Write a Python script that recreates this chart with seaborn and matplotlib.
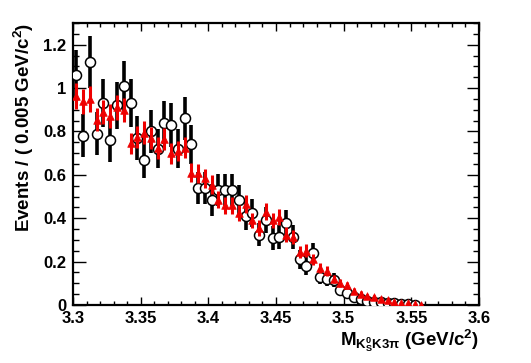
import numpy as np
import pandas as pd
import matplotlib
matplotlib.use("Agg")
import matplotlib.pyplot as plt
import seaborn as sns
from matplotlib.ticker import MultipleLocator, FuncFormatter

# bin centres, 0.005 GeV/c^2 bins starting at 3.3
data_x = [3.3025 + 0.005 * i for i in range(51)]
data_y = [1.06, 0.78, 1.12, 0.79, 0.93, 0.76, 0.92, 1.01, 0.93, 0.77,
          0.67, 0.80, 0.72, 0.84, 0.83, 0.72, 0.86, 0.74, 0.54, 0.54,
          0.485, 0.53, 0.53, 0.53, 0.485, 0.41, 0.425, 0.325, 0.39, 0.31,
          0.315, 0.38, 0.315, 0.21, 0.18, 0.24, 0.13, 0.12, 0.115, 0.07,
          0.055, 0.038, 0.026, 0.02, 0.015, 0.014, 0.01, 0.008, 0.005, 0.003,
          0.002]
data_err = [0.115, 0.10, 0.12, 0.10, 0.11, 0.10, 0.11, 0.115, 0.11, 0.10,
            0.085, 0.10, 0.09, 0.10, 0.10, 0.09, 0.10, 0.09, 0.075, 0.075,
            0.075, 0.075, 0.075, 0.075, 0.07, 0.065, 0.065, 0.055, 0.06, 0.055,
            0.055, 0.06, 0.055, 0.045, 0.04, 0.045, 0.035, 0.033, 0.032, 0.025,
            0.022, 0.018, 0.015, 0.013, 0.011, 0.01, 0.009, 0.008, 0.006, 0.005,
            0.004]

mc_x = [3.3025 + 0.005 * i for i in range(52)]
mc_y = [0.965, 0.94, 0.95, 0.855, 0.89, 0.87, 0.912, 0.90, 0.745, 0.775,
        0.795, 0.77, 0.725, 0.765, 0.70, 0.71, 0.725, 0.61, 0.607, 0.585,
        0.555, 0.485, 0.46, 0.46, 0.425, 0.465, 0.39, 0.355, 0.43, 0.39,
        0.405, 0.325, 0.315, 0.245, 0.25, 0.21, 0.17, 0.155, 0.12, 0.103,
        0.09, 0.065, 0.052, 0.04, 0.035, 0.027, 0.022, 0.016, 0.01, 0.007,
        0.004, 0.002]
mc_err = [0.06, 0.058, 0.06, 0.055, 0.056, 0.055, 0.057, 0.056, 0.05, 0.052,
          0.052, 0.05, 0.05, 0.05, 0.048, 0.048, 0.049, 0.045, 0.045, 0.044,
          0.043, 0.04, 0.04, 0.04, 0.038, 0.04, 0.036, 0.035, 0.038, 0.036,
          0.037, 0.033, 0.033, 0.029, 0.029, 0.027, 0.024, 0.023, 0.02, 0.019,
          0.017, 0.015, 0.013, 0.012, 0.011, 0.01, 0.009, 0.008, 0.006, 0.005,
          0.004, 0.003]

sns.set_theme(style="ticks")
plt.rcParams['font.family'] = ['Liberation Sans', 'DejaVu Sans']
plt.rcParams['font.weight'] = 'bold'
plt.rcParams['text.color'] = 'black'
plt.rcParams['axes.labelcolor'] = 'black'
plt.rcParams['xtick.color'] = 'black'
plt.rcParams['ytick.color'] = 'black'
plt.rcParams['mathtext.fontset'] = 'custom'
plt.rcParams['mathtext.rm'] = 'Liberation Sans:bold'
plt.rcParams['mathtext.it'] = 'Liberation Sans:bold'
plt.rcParams['mathtext.bf'] = 'Liberation Sans:bold'

df_data = pd.DataFrame({'mass': data_x, 'events': data_y, 'err': data_err})
df_mc = pd.DataFrame({'mass': mc_x, 'events': mc_y, 'err': mc_err})

fig = plt.figure(figsize=(5.31, 3.63), dpi=100)
ax = fig.add_axes([73 / 531, 58 / 363, 406 / 531, 282 / 363])

# data: open black circles
ax.errorbar(df_data['mass'], df_data['events'], yerr=df_data['err'], fmt='none',
            ecolor='black', elinewidth=2.6, capsize=0, zorder=2)
sns.scatterplot(data=df_data, x='mass', y='events', marker='o', s=52,
                facecolor='white', edgecolor='black', linewidth=1.1, zorder=3, ax=ax)

# MC: red triangles
ax.errorbar(df_mc['mass'], df_mc['events'], yerr=df_mc['err'], fmt='none',
            ecolor='#ee0000', elinewidth=2.2, capsize=0, zorder=4)
sns.scatterplot(data=df_mc, x='mass', y='events', marker='^', s=30,
                color='#ee0000', edgecolor='#ee0000', linewidth=0.5, zorder=5, ax=ax)

ax.set_xlim(3.3, 3.6)
ax.set_ylim(0, 1.3)
ax.xaxis.set_major_locator(MultipleLocator(0.05))
ax.xaxis.set_minor_locator(MultipleLocator(0.01))
ax.yaxis.set_major_locator(MultipleLocator(0.2))
ax.yaxis.set_minor_locator(MultipleLocator(0.05))
ax.xaxis.set_major_formatter(FuncFormatter(lambda v, p: f"{v:g}"))
ax.yaxis.set_major_formatter(FuncFormatter(lambda v, p: f"{v:g}"))

for s in ax.spines.values():
    s.set_linewidth(1.6)
    s.set_color('black')
ax.tick_params(axis='both', which='both', direction='in', top=True, right=True,
               colors='black', labelsize=12, width=1.0)
ax.tick_params(axis='x', which='major', length=6, pad=4)
ax.tick_params(axis='x', which='minor', length=3)
ax.tick_params(axis='y', which='major', length=9, pad=5)
ax.tick_params(axis='y', which='minor', length=4.5)
for lab in ax.get_xticklabels() + ax.get_yticklabels():
    lab.set_fontweight('bold')

ax.set_xlabel(r"M$_{\mathrm{K^0_SK3}\pi}$ (GeV/c$^2$)", loc='right',
              fontsize=13.5, fontweight='bold', labelpad=1, color='black')
ax.set_ylabel(r"Events / ( 0.005 GeV/c$^2$)", loc='top',
              fontsize=13.5, fontweight='bold', labelpad=5, color='black')

fig.savefig("out.png", dpi=100)
